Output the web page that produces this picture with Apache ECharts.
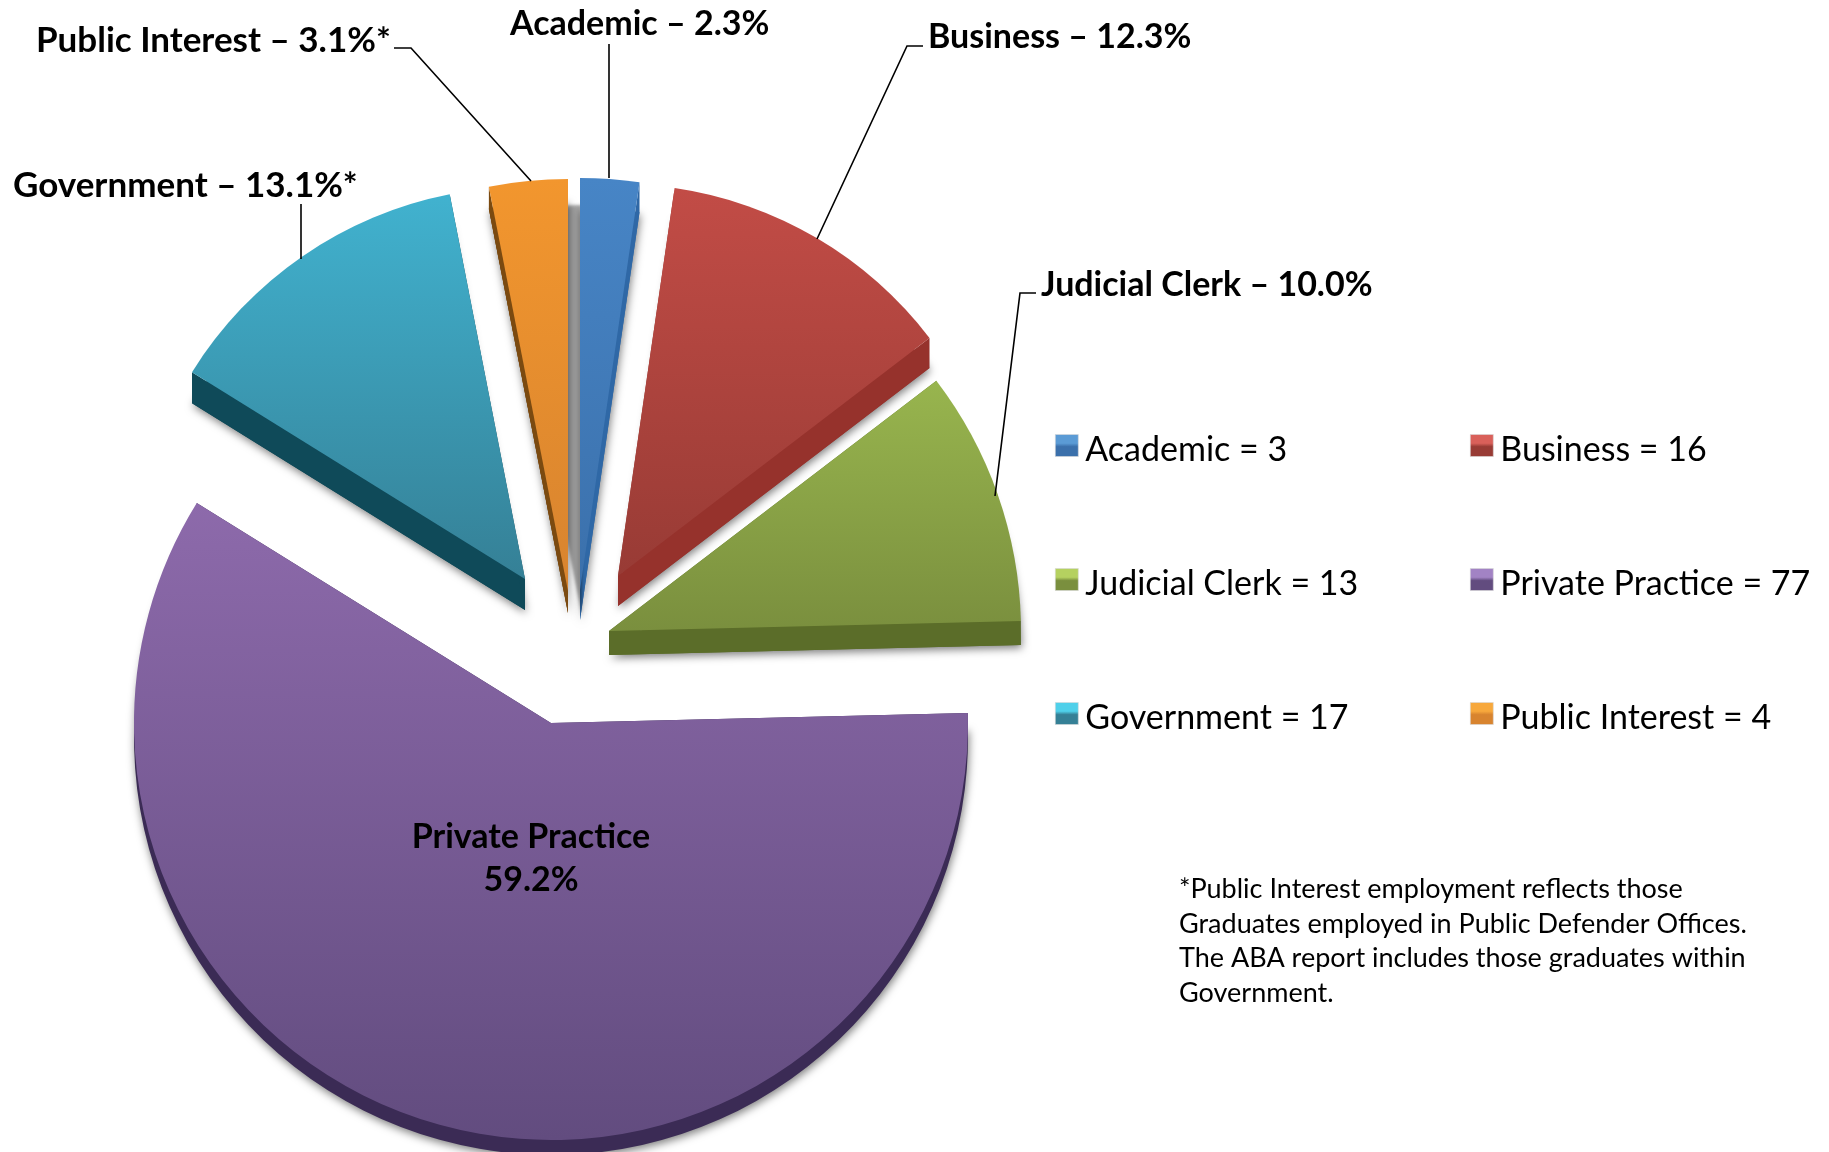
<!DOCTYPE html>
<html><head><meta charset="utf-8">
<style>html,body{margin:0;padding:0;background:#fff}#c{width:1829px;height:1152px}</style>
<script src="https://cdn.jsdelivr.net/npm/echarts@6/dist/echarts.min.js"></script>
</head><body><div id="c"></div>
<script>
const categories = ['Academic','Business','Judicial Clerk','Private Practice','Government','Public Interest'];
const counts = [3,16,13,77,17,4];
const asterisk = [false,false,false,false,true,true];
const footnote = ['*Public Interest employment reflects those','Graduates employed in Public Defender Offices.','The ABA report includes those graduates within','Government.'];

// styling only: exploded apex, radius, extrusion depth, colours, label anchors
const apex = [[580,590],[618,576],[609,631],[551,723],[525,579],[568,591]];
const radii = [412,392,412,417,392,412];
const depth = [30,30,24,15,31,22];
const faceTop = ['#4785c6','#c24c46','#98b54e','#8d6aab','#41b2cf','#f2962e'];
const faceBot = ['#3b70ab','#983b35','#7a8f3e','#624c7f','#358096','#d8842f'];
const wall = ['#2f68a6','#96322c','#5b6d29','#3b2b55','#0f4a59','#7b4a10'];
const legendTop = ['#5b9bd5','#d9605a','#b5d160','#a283c4','#4fd0ea','#f7a83c'];
const labelSize = [34,34,34,34,35,35];
const labelAnchor = [
  {x:510,y:24.5,align:'left'},{x:928,y:37.5,align:'left'},{x:1041,y:285,align:'left'},
  {x:531,y:858.5,align:'center'},{x:13,y:185.5,align:'left'},{x:36,y:41,align:'left'}];
const leaders = [
  [[609,44],[609,178]],
  [[923,46],[907,46],[817,239]],
  [[1036,293],[1020,293],[995,496]],
  null,
  [[301,204],[301,259]],
  [[394,48],[411,48],[531,181]]];

const FONT = 'Lato';
const total = counts.reduce((a,b)=>a+b,0);
const cum = counts.map((_,i)=>counts.slice(0,i).reduce((a,b)=>a+b,0));
const grad = i => ({type:'linear',x:0,y:0,x2:0,y2:1,colorStops:[{offset:0,color:faceTop[i]},{offset:1,color:faceBot[i]}]});
const legendGrad = i => ({type:'linear',x:0,y:0,x2:0,y2:1,colorStops:[{offset:0,color:legendTop[i]},{offset:0.4,color:legendTop[i]},{offset:0.55,color:faceBot[i]},{offset:1,color:faceBot[i]}]});
const pctText = i => (counts[i]/total*100).toFixed(1)+'%';

const faces = categories.map((name,i)=>({
  type:'pie', name, z:3, animation:false, silent:true, clockwise:true,
  center:apex[i], radius:[0,radii[i]], startAngle:90-360*cum[i]/total,
  avoidLabelOverlap:false,
  labelLine:{show:false},
  labelLayout:{x:labelAnchor[i].x,y:labelAnchor[i].y,align:labelAnchor[i].align,verticalAlign:'middle'},
  data:[
    {name,value:counts[i],
     itemStyle:{color:grad(i)},
     label:{show:true,position:'outside',color:'#000',fontFamily:FONT,fontWeight:'bold',
            fontSize:labelSize[i],lineHeight:43,alignTo:'none',
            formatter: i===3 ? name+'\n'+pctText(i) : name+' – '+pctText(i)+(asterisk[i]?'*':'')}},
    {name:'rest',value:total-counts[i],itemStyle:{color:'rgba(0,0,0,0)'},label:{show:false},labelLine:{show:false}}
  ]
}));

const walls = {
  type:'custom', name:'walls', z:2, silent:true, animation:false, coordinateSystem:'none',
  data: counts.map((v,i)=>[i,v,cum[i]]),
  renderItem(params,api){
    const i=api.value(0), v=api.value(1), c=api.value(2);
    const a0=-Math.PI/2+2*Math.PI*c/total, a1=a0+2*Math.PI*v/total;
    const [cx,cy]=apex[i], r=radii[i], d=depth[i];
    const P=a=>[cx+r*Math.cos(a),cy+r*Math.sin(a)];
    const p0=P(a0),p1=P(a1);
    const style={fill:wall[i],shadowBlur:9,shadowColor:'rgba(0,0,0,0.5)',shadowOffsetX:1,shadowOffsetY:3};
    const plain={fill:wall[i]};
    const sector=st=>({type:'sector',shape:{cx,cy:cy+d,r,r0:0,startAngle:a0,endAngle:a1,clockwise:true},style:st});
    const children=[];
    if(i===5) children.push(sector({fill:wall[i],shadowBlur:3,shadowColor:'rgba(0,0,0,0.36)',shadowOffsetX:14,shadowOffsetY:4}));
    children.push(sector(style),
      {type:'polygon',shape:{points:[[cx,cy],p0,[p0[0],p0[1]+d],[cx,cy+d]]},style:plain},
      {type:'polygon',shape:{points:[[cx,cy],p1,[p1[0],p1[1]+d],[cx,cy+d]]},style:plain});
    return {type:'group',children};
  }
};

const legendRows = [[0,2,4],[1,3,5]];
const legendCol = [1055,1470];
const legends = legendRows.map((rows,k)=>({
  left:legendCol[k], top:433, padding:0, orient:'vertical', itemGap:100, itemWidth:23, itemHeight:22,
  selectedMode:false, icon:'rect',
  textStyle:{fontFamily:FONT,fontSize:34,color:'#000',
    rich:{a:{fontFamily:FONT,fontSize:34,color:'#000',padding:[9,0,0,2]}}},
  formatter:n=>'{a|'+n+' = '+counts[categories.indexOf(n)]+'}',
  data:rows.map(i=>({name:categories[i],itemStyle:{color:legendGrad(i),borderColor:'#d9d9d9',borderWidth:0.6}}))
}));

const graphics = leaders.filter(Boolean).map(points=>({
  type:'polyline',z:10,silent:true,shape:{points},style:{stroke:'#000',lineWidth:1.6,fill:null}
}));
graphics.push({type:'text',left:1179,top:872,z:10,silent:true,
  style:{text:footnote.join('\n'),fontFamily:FONT,fontSize:27,lineHeight:34.7,fill:'#000'}});

const chart = echarts.init(document.getElementById('c'),null,{renderer:'canvas'});
chart.setOption({backgroundColor:'#fff',animation:false,tooltip:{show:false},
  legend:legends,graphic:graphics,series:[walls,...faces]});
</script></body></html>
